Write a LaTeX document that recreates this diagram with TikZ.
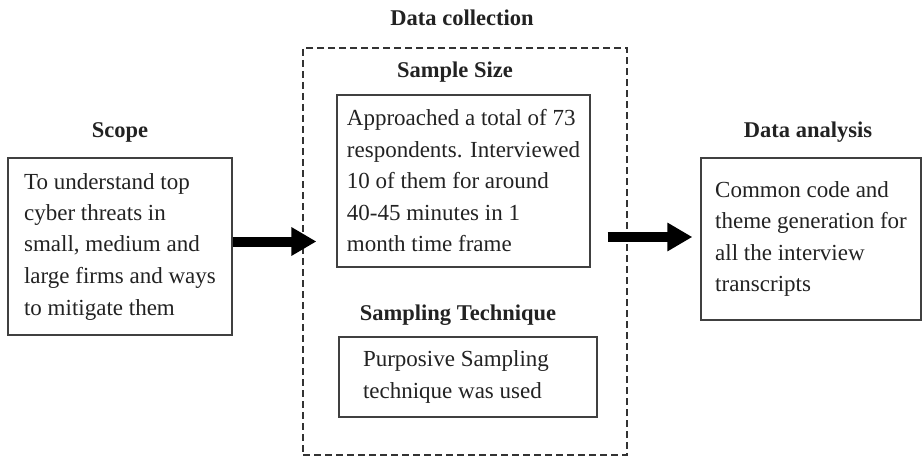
\documentclass[tikz,border=0pt]{standalone}
\usepackage{fontspec}
\setmainfont{Liberation Serif}
\usetikzlibrary{arrows.meta}
\definecolor{ink}{HTML}{222222}
\begin{document}
\begin{tikzpicture}[x=1pt,y=-1pt,
  box/.style={draw=black!75,line width=1.3pt,align=left,inner sep=0pt,
    font=\fontsize{23}{31.5}\selectfont,text=ink},
  head/.style={font=\bfseries\fontsize{22.5}{26}\selectfont,text=ink,inner sep=0pt},
  group/.style={draw=black!80,line width=1.2pt,dash pattern=on 7pt off 4pt,inner sep=0pt},
  bigarrow/.style={draw=black,line width=10pt,-{Triangle[length=25pt,width=27pt]}}]
\useasboundingbox (0,0) rectangle (924,460);

\node[group,minimum width=324pt,minimum height=407pt] (dc) at (465,251.5) {};
\node[head] (hdc) at (462,18) {Data collection};

\node[box,minimum width=224pt,minimum height=177pt] (scope) at (120,246.5)
  {To understand top\\cyber threats in\\small, medium and\\large firms and ways\\to mitigate them};
\node[head] (hscope) at (120,132) {Scope};

\node[box,minimum width=253pt,minimum height=172pt] (sample) at (463.5,181)
  {Approached a total of 73\\respondents. Interviewed\\10 of them for around\\40-45 minutes in 1\\month time frame};
\node[head] (hsample) at (455,72) {Sample Size};

\node[box,align=flush left,minimum width=258pt,minimum height=80pt,text width=210pt] (tech) at (468,377)
  {Purposive Sampling\\technique was used};
\node[head] (htech) at (458,315) {Sampling Technique};

\node[box,minimum width=220pt,minimum height=162pt] (analysis) at (811,239)
  {Common code and\\theme generation for\\all the interview\\transcripts};
\node[head] (hanalysis) at (808,132) {Data analysis};

\draw[bigarrow] ([yshift=5pt]scope.east) -- ([xshift=14pt,yshift=5pt]scope.east -| dc.west);
\draw[bigarrow] ([xshift=-20pt,yshift=2pt]dc.east |- analysis.west) -- ([xshift=-8pt,yshift=2pt]analysis.west);
\end{tikzpicture}
\end{document}
